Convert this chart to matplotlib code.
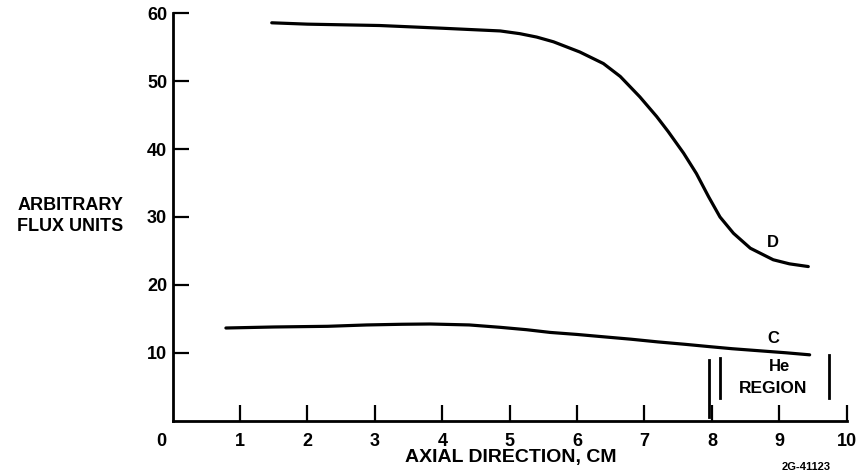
import matplotlib
matplotlib.use("Agg")
import matplotlib.pyplot as plt
import matplotlib.transforms as mtransforms

# curve D (upper)
d_x = [1.47, 2.0, 3.07, 4.0, 4.86, 5.15, 5.4, 5.65, 6.04, 6.39, 6.64, 6.93, 7.18, 7.35,
       7.58, 7.77, 7.95, 8.12, 8.32, 8.57, 8.91, 9.15, 9.43]
d_y = [58.6, 58.4, 58.2, 57.8, 57.4, 57.0, 56.5, 55.8, 54.3, 52.6, 50.7, 47.7, 44.8, 42.6,
       39.4, 36.4, 33.0, 30.0, 27.6, 25.4, 23.7, 23.1, 22.7]

# curve C (lower)
c_x = [0.79, 1.5, 2.3, 2.88, 3.4, 3.82, 4.4, 4.86, 5.25, 5.6, 6.0, 6.34, 6.8, 7.2, 7.6, 7.97, 8.3, 8.7, 9.1, 9.45]
c_y = [13.65, 13.8, 13.9, 14.1, 14.2, 14.24, 14.1, 13.75, 13.4, 13.0, 12.7, 12.4, 12.0, 11.6, 11.25, 10.9, 10.6, 10.3, 10.0, 9.7]

# He region boundary bars: (x, y bottom, y top)
he_bars = [(7.95, 0.6, 8.9), (8.12, 3.3, 9.2), (9.74, 3.4, 9.7)]

x_ticks = list(range(0, 11))
y_ticks = [10, 20, 30, 40, 50, 60]

FAMILY = ["Liberation Sans", "DejaVu Sans"]
FONT = dict(family=FAMILY, weight="bold")

fig = plt.figure(figsize=(8.59, 4.73), dpi=100)
ax = fig.add_axes([0.201, 0.1106, 0.7847, 0.8613])

ax.plot(d_x, d_y, color="black", lw=2.3, solid_capstyle="round")
ax.plot(c_x, c_y, color="black", lw=2.3, solid_capstyle="round")
for bx, b0, b1 in he_bars:
    ax.plot([bx, bx], [b0, b1], color="black", lw=2.0)

ax.set_xlim(0, 10)
ax.set_ylim(0, 60)
ax.spines["top"].set_visible(False)
ax.spines["right"].set_visible(False)
ax.spines["left"].set_linewidth(2.0)
ax.spines["bottom"].set_linewidth(2.0)

ax.set_xticks(x_ticks)
ax.set_xticklabels([str(v) for v in x_ticks])
ax.set_yticks(y_ticks)
ax.set_yticklabels([str(v) for v in y_ticks])
ax.tick_params(axis="x", direction="in", length=11.5, width=1.6, pad=9, labelsize=13)
ax.tick_params(axis="y", direction="in", length=11.5, width=1.6, pad=4, labelsize=13)
for lab in ax.get_xticklabels() + ax.get_yticklabels():
    lab.set_fontweight("bold")
    lab.set_fontfamily(FAMILY)
# the 0 at the origin sits a bit to the left
lab0 = ax.get_xticklabels()[0]
lab0.set_transform(lab0.get_transform() + mtransforms.ScaledTranslation(-0.11, 0, fig.dpi_scale_trans))
ax.get_xticklines()[0].set_visible(False)

ax.text(8.9, 26.2, "D", ha="center", va="center", fontsize=12, **FONT)
ax.text(8.91, 12.1, "C", ha="center", va="center", fontsize=12, **FONT)
ax.text(9.01, 7.95, "He", ha="center", va="center", fontsize=12, **FONT)
ax.text(8.9, 4.8, "REGION", ha="center", va="center", fontsize=12.5, **FONT)

fig.text(70 / 859, 1 - 205 / 473, "ARBITRARY", ha="center", va="center",
         fontsize=13, **FONT)
fig.text(70 / 859, 1 - 226 / 473, "FLUX UNITS", ha="center", va="center",
         fontsize=13, **FONT)
fig.text(511 / 859, 1 - 457 / 473, "AXIAL DIRECTION, CM", ha="center", va="center",
         fontsize=14, **FONT)
fig.text(782 / 859, 0.002, "2G-41123", ha="left", va="bottom", fontsize=8, **FONT)

fig.savefig("out.png", dpi=100)
